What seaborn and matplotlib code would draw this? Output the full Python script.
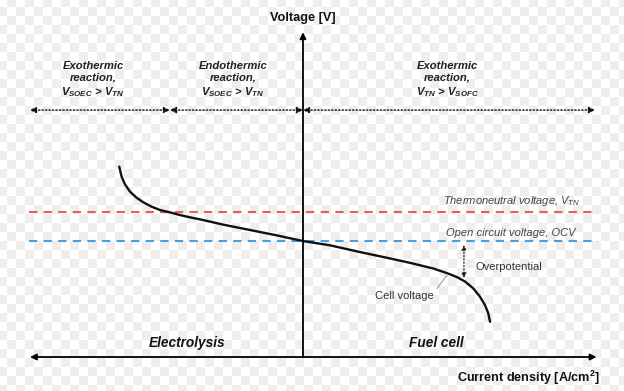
import numpy as np
import pandas as pd
import matplotlib
matplotlib.use("Agg")
import matplotlib.pyplot as plt
import seaborn as sns

# ---------------- data (arbitrary units) ----------------
current_density = [-1.225, -1.209, -1.187, -1.153, -1.109, -1.065, -1.009, -0.953,
                   -0.887, -0.82, -0.753, -0.687, -0.52, -0.353, -0.187, 0.0,
                   0.18, 0.38, 0.547, 0.713, 0.869, 0.958, 1.025, 1.08, 1.135,
                   1.18, 1.213, 1.235, 1.247]
cell_voltage = [1.641, 1.554, 1.489, 1.425, 1.373, 1.334, 1.296, 1.267,
                1.247, 1.224, 1.204, 1.187, 1.138, 1.095, 1.052, 1.0,
                0.963, 0.905, 0.859, 0.812, 0.763, 0.724, 0.690, 0.651, 0.592,
                0.520, 0.448, 0.377, 0.304]
v_thermoneutral = 1.25
v_ocv = 1.0
overpotential_j = 1.073
overpotential_range = [0.966, 0.681]
region_bounds = [-1.82, -0.887, 0.0, 1.947]
region_labels = ["Exothermic\nreaction,\n$\\mathbf{V_{SOEC}}$ > $\\mathbf{V_{TN}}$",
                 "Endothermic\nreaction,\n$\\mathbf{V_{SOEC}}$ > $\\mathbf{V_{TN}}$",
                 "Exothermic\nreaction,\n$\\mathbf{V_{TN}}$ > $\\mathbf{V_{SOFC}}$"]
region_centers = [-1.40, -0.467, 0.96]
mode_labels = ["Electrolysis", "Fuel cell"]
mode_centers = [-0.77, 0.89]

df = pd.DataFrame({"j": current_density, "V": cell_voltage})

# ---------------- style ----------------
sns.set_theme(style="white")
plt.rcParams['font.family'] = ['Liberation Sans', 'DejaVu Sans']
plt.rcParams['mathtext.fontset'] = 'custom'
plt.rcParams['mathtext.bf'] = 'Liberation Sans:bold:italic'
plt.rcParams['mathtext.it'] = 'Liberation Sans:italic'
plt.rcParams['mathtext.rm'] = 'Liberation Sans:italic'

fig = plt.figure(figsize=(6.24, 3.91), dpi=100)

# transparency checkerboard background
H, W, s = 391, 624, 9
yy, xx = np.mgrid[0:H, 0:W]
chk = (((xx + 2) // s + (yy + 2) // s) % 2).astype(float)
bg = np.where(chk[..., None] > 0, np.array([0.937, 0.937, 0.937]), np.array([1.0, 1.0, 1.0]))
fig.figimage(bg, xo=0, yo=0, zorder=-5)

ax = fig.add_axes([0, 0, 1, 1])
ax.set_zorder(2)
ax.patch.set_alpha(0)
ax.set_xlim(-2.02, 2.14)
ax.set_ylim(-0.293, 3.078)
ax.axis("off")

# axes arrows
ax.annotate("", xy=(region_bounds[0], 0), xytext=(region_bounds[-1] + 0.01, 0),
            arrowprops=dict(arrowstyle="<|-|>", color="black", lw=1.3,
                            mutation_scale=9, shrinkA=0, shrinkB=0))
ax.annotate("", xy=(0, 2.80), xytext=(0, 0),
            arrowprops=dict(arrowstyle="-|>", color="black", lw=1.3,
                            mutation_scale=9, shrinkA=0, shrinkB=0))
ax.text(0, 2.925, "Voltage [V]", ha="center", va="center", fontsize=9.2,
        fontweight="bold", color="#111111")
ax.text(1.98, -0.18, "Current density [A/cm$^\\mathregular{2}$]", ha="right", va="center",
        fontsize=9.1, fontweight="bold", color="#111111")

# reference voltage lines
ax.axhline(v_thermoneutral, xmin=0.0462, xmax=0.958, color="#f05a5a", lw=1.5,
           ls=(0, (4, 3)))
ax.axhline(v_ocv, xmin=0.0462, xmax=0.958, color="#4a9fdc", lw=1.5,
           ls=(0, (4, 3)))
ax.text(1.85, 1.345, "Thermoneutral voltage, $V_{TN}$", ha="right", va="center",
        fontsize=8.0, style="italic", color="#444444")
ax.text(1.82, 1.07, "Open circuit voltage, OCV", ha="right", va="center",
        fontsize=8.0, style="italic", color="#444444")

# cell voltage curve
sns.lineplot(data=df, x="j", y="V", ax=ax, color="#111111", lw=1.7, sort=False,
             estimator=None, solid_joinstyle="round", solid_capstyle="round")
if ax.get_legend() is not None:
    ax.get_legend().remove()

# overpotential arrow
ax.annotate("", xy=(overpotential_j, overpotential_range[0]),
            xytext=(overpotential_j, overpotential_range[1]),
            arrowprops=dict(arrowstyle="<|-|>", color="#222222", lw=0.9, ls=":",
                            mutation_scale=7, shrinkA=0, shrinkB=0))
ax.text(1.147, 0.78, "Overpotential", ha="left", va="center", fontsize=8.0,
        color="#333333")
ax.annotate("Cell voltage", xy=(0.963, 0.712), xytext=(0.48, 0.53),
            ha="left", va="center", fontsize=8.0, color="#333333",
            arrowprops=dict(arrowstyle="-", color="#999999", lw=0.8,
                            shrinkA=0, shrinkB=0, relpos=(1.03, 1.0)))

# region arrows and labels
y_reg = 2.129
for a, b in zip(region_bounds[:-1], region_bounds[1:]):
    ax.annotate("", xy=(a, y_reg), xytext=(b, y_reg),
                arrowprops=dict(arrowstyle="<|-|>", color="#111111", lw=1.0, ls=(0, (1, 1.5)),
                                mutation_scale=9, shrinkA=0, shrinkB=0))
for c, lab in zip(region_centers, region_labels):
    ax.text(c, 2.39, lab, ha="center", va="center", fontsize=8.1,
            fontweight="bold", style="italic", color="#222222", linespacing=1.2)

for c, lab in zip(mode_centers, mode_labels):
    ax.text(c, 0.12, lab, ha="center", va="center", fontsize=9.8,
            fontweight="bold", style="italic", color="#111111")

fig.savefig("out.png", dpi=100)
